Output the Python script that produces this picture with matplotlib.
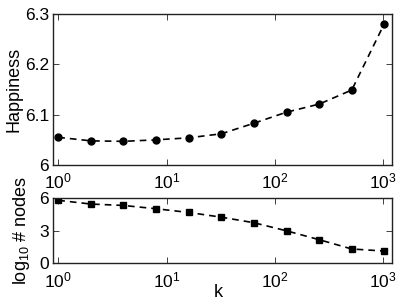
import matplotlib
matplotlib.use("Agg")
import matplotlib.pyplot as plt
from matplotlib.ticker import FixedLocator, FixedFormatter, NullLocator

plt.rcParams['font.family'] = ['Liberation Sans', 'DejaVu Sans']
plt.rcParams['mathtext.fontset'] = 'custom'
plt.rcParams['mathtext.rm'] = 'Liberation Sans'
plt.rcParams['mathtext.it'] = 'Liberation Sans:italic'

k = [1, 2, 4, 8, 16, 32, 64, 128, 256, 512, 1024]
happiness = [6.055, 6.048, 6.047, 6.050, 6.054, 6.062, 6.083, 6.105, 6.121, 6.149, 6.281]
log_nodes = [5.76, 5.42, 5.29, 4.99, 4.65, 4.22, 3.71, 2.97, 2.16, 1.31, 1.12]

xticks = [1, 10, 100, 1000]
xticklabels = [r'$10^0$', r'$10^1$', r'$10^2$', r'$10^3$']
top_yticks = [6.0, 6.1, 6.2, 6.3]
top_yticklabels = ['6', '6.1', '6.2', '6.3']
bot_yticks = [0, 3, 6]
bot_yticklabels = ['0', '3', '6']

fig = plt.figure(figsize=(3.99, 3.0), dpi=100)
ax1 = fig.add_axes([0.1336, 0.45, 0.848, 0.5033])
ax2 = fig.add_axes([0.1336, 0.1223, 0.848, 0.2187])

ax1.plot(k, happiness, 'k--', marker='o', markersize=5, linewidth=1.2, dashes=(4, 3))
ax2.plot(k, log_nodes, 'k--', marker='s', markersize=4, linewidth=1.2, dashes=(4, 3))

for ax, yt, ytl, ylim in [(ax1, top_yticks, top_yticklabels, (6.0, 6.3)),
                          (ax2, bot_yticks, bot_yticklabels, (0, 6))]:
    ax.set_xscale('log')
    ax.set_xlim(0.9, 1195)
    ax.set_ylim(*ylim)
    ax.xaxis.set_major_locator(FixedLocator(xticks))
    ax.xaxis.set_major_formatter(FixedFormatter(xticklabels))
    ax.xaxis.set_minor_locator(NullLocator())
    ax.yaxis.set_major_locator(FixedLocator(yt))
    ax.yaxis.set_major_formatter(FixedFormatter(ytl))
    ax.tick_params(direction='in', top=True, right=True, labelsize=12.5,
                   length=4, width=0.6, colors='#222222', labelcolor='black')
    ax.tick_params(axis='x', pad=5)
    ax.tick_params(axis='y', pad=3)
    for s in ax.spines.values():
        s.set_linewidth(1.0)
        s.set_color('#222222')

ax1.set_ylabel('Happiness', fontsize=13)
ax2.set_ylabel(r'log$_{10}$ # nodes', fontsize=13)
ax2.set_xlabel('k', fontsize=13)
ax1.yaxis.set_label_coords(-0.092, 0.5)
ax2.yaxis.set_label_coords(-0.062, 0.5)
ax2.xaxis.set_label_coords(0.487, -0.32)

fig.savefig('out.png', dpi=100)
